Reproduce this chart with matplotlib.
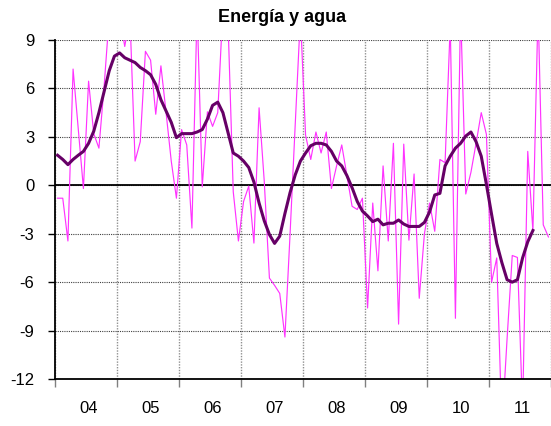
import matplotlib
matplotlib.use("Agg")
import matplotlib.pyplot as plt
import numpy as np

plt.rcParams['font.family'] = ['Liberation Sans', 'DejaVu Sans']

title = "Energía y agua"
year_labels = ["04", "05", "06", "07", "08", "09", "10", "11"]
y_ticks = [-12, -9, -6, -3, 0, 3, 6, 9]

# monthly series (thin magenta), Jan 2004 .. Dec 2011
monthly = [
    -0.8, -0.8, -3.45, 7.2, 3.5, -0.2, 6.45, 3.2, 2.3, 6.1, 10.5, 11.0,
    10.5, 8.6, 10.5, 1.5, 2.7, 8.3, 7.75, 4.4, 7.4, 4.5, 1.5, -0.8,
    3.45, 2.5, -2.65, 11.0, -0.1, 4.55, 3.65, 4.5, 11.0, 10.0, -0.4, -3.45,
    -1.0, -0.05, -3.58, 4.8, 0.25, -5.75, -6.2, -6.7, -9.4, -3.0, 3.8, 10.5,
    3.1, 1.6, 3.3, 2.0, 3.3, -0.2, 1.2, 2.5, 0.6, -1.3, -1.5, -0.8,
    -7.6, -1.1, -5.3, 1.2, -3.45, 2.6, -8.6, 2.55, -3.4, 0.7, -7.0, -3.0,
    -1.1, -2.85, 1.6, 1.4, 10.0, -8.24, 11.0, -0.54, 0.8, 2.6, 4.5, 3.15,
    -6.0, -4.5, -15.0, -9.5, -4.35, -4.47, -14.0, 2.1, -2.85, 11.0, -2.45, -3.2,
]

# trend series (thick purple), Jan 2004 .. Sep 2011
trend = [
    1.86, 1.6, 1.28, 1.6, 1.86, 2.1, 2.6, 3.35, 4.5, 5.8, 7.1, 8.0,
    8.2, 7.9, 7.75, 7.6, 7.3, 7.1, 6.85, 6.25, 5.3, 4.6, 3.9, 2.95,
    3.2, 3.2, 3.2, 3.3, 3.45, 4.1, 4.95, 5.15, 4.5, 3.25, 2.0, 1.8,
    1.5, 1.1, 0.2, -1.1, -2.2, -3.05, -3.6, -3.15, -1.75, -0.45, 0.65, 1.5,
    2.0, 2.45, 2.6, 2.6, 2.5, 2.1, 1.5, 1.2, 0.6, -0.15, -1.0, -1.6,
    -1.9, -2.25, -2.1, -2.45, -2.35, -2.35, -2.15, -2.4, -2.55, -2.55, -2.55, -2.3,
    -1.65, -0.6, -0.5, 1.2, 1.8, 2.3, 2.6, 3.05, 3.3, 2.7, 1.8, 0.05,
    -1.8, -3.6, -4.8, -5.85, -6.0, -5.85, -4.5, -3.5, -2.8,
]

W, H = 551, 426
fig = plt.figure(figsize=(W / 100, H / 100), dpi=100)
left_px, right_px, top_px, bottom_px = 55, 551, 40, 379
ax = fig.add_axes([left_px / W, (H - bottom_px) / H,
                   (right_px - left_px) / W, (bottom_px - top_px) / H])

month_px = (552.9 - 55) / 96.0
ax.set_xlim(0, (right_px - left_px) / month_px)
ax.set_ylim(-12, 9)

xm = np.arange(len(monthly)) + 0.5
xt = np.arange(len(trend)) + 0.5

ax.axhline(0, color='black', lw=1.3, zorder=1.5)
ax.plot(xm, monthly, color='#ff33ff', lw=0.85, zorder=2)
ax.plot(xt, trend, color='#660066', lw=2.2, zorder=3, solid_joinstyle='round')

# grid
ax.set_yticks(y_ticks)
ax.set_yticklabels([str(v) for v in y_ticks], fontsize=12)
ax.yaxis.grid(True, color='#404040', linestyle=(0, (1, 1)), linewidth=0.8)
major_x = np.arange(0, 97, 12)
ax.set_xticks(major_x)
ax.set_xticklabels([])
ax.set_xticks(np.arange(len(year_labels)) * 12 + 6.5, minor=True)
ax.set_xticklabels(year_labels, minor=True, fontsize=12)
ax.xaxis.grid(True, which='major', color='#909090', linestyle=(0, (1, 1)), linewidth=1.0)
ax.set_axisbelow(True)

ax.tick_params(axis='x', which='major', length=6, width=1, color='#808080')
ax.tick_params(axis='x', which='minor', length=0, pad=16)
ax.tick_params(axis='y', which='major', length=5, width=1, color='black', pad=10)

for s in ['top', 'right']:
    ax.spines[s].set_visible(False)
for s in ['left', 'bottom']:
    ax.spines[s].set_color('black')
    ax.spines[s].set_linewidth(1.3)

fig.text(282 / W, 1 - 17 / H, title, ha='center', va='center',
         fontsize=13, fontweight='bold')

fig.savefig('out.png', dpi=100)
